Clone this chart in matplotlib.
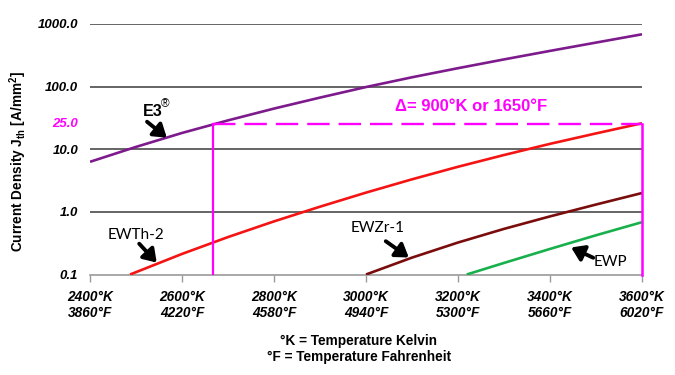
import matplotlib
matplotlib.use("Agg")
import matplotlib.pyplot as plt
from matplotlib.transforms import blended_transform_factory

# ---- data ----
t_e3 = [2400, 2500, 2600, 2700, 2800, 2900, 3000, 3100, 3200, 3300, 3400, 3500, 3600]
j_e3 = [6.3, 10.9, 18.2, 28.9, 44.6, 66.8, 98.5, 141, 197, 272, 372, 505, 685]

t_ewth = [2487, 2500, 2600, 2700, 2800, 2900, 3000, 3100, 3200, 3300, 3400, 3500, 3600]
j_ewth = [0.1, 0.109, 0.213, 0.396, 0.705, 1.21, 2.03, 3.31, 5.25, 8.09, 12.2, 17.9, 26.0]

t_ewzr = [3000, 3100, 3200, 3300, 3400, 3500, 3600]
j_ewzr = [0.1, 0.186, 0.324, 0.535, 0.847, 1.31, 2.0]

t_ewp = [3219, 3300, 3400, 3500, 3600]
j_ewp = [0.1, 0.153, 0.256, 0.423, 0.685]

kelvin_ticks = [2400, 2600, 2800, 3000, 3200, 3400, 3600]
fahrenheit_labels = ["3860", "4220", "4580", "4940", "5300", "5660", "6020"]
y_ticks = [0.1, 1, 10, 100, 1000]
y_labels = ["0.1", "1.0", "10.0", "100.0", "1000.0"]

delta_t_start = 2667
delta_t_end = 3600
delta_level = 25.0

# ---- style ----
C_E3 = "#7D1A8C"
C_TH = "#F41414"
C_ZR = "#7A0C0C"
C_P = "#18B04C"
C_MAG = "#FF00FF"
ARIAL = "Liberation Sans"
LABEL_FONT = "Lato"

fig = plt.figure(figsize=(6.75, 3.75), dpi=100)
ax = fig.add_axes([90 / 675, 1 - 274.5 / 375, 552 / 675, 250.5 / 375])

ax.set_yscale("log")
ax.set_xlim(2400, 3600)
ax.set_ylim(0.1, 1000)

for s in ["top", "right", "left"]:
    ax.spines[s].set_visible(False)
ax.spines["bottom"].set_color("#9A9A9A")
ax.spines["bottom"].set_linewidth(1.2)

# gridlines
for v in [1, 10, 100, 1000]:
    ax.axhline(v, color="#3A3A3A", lw=1.1, zorder=1)

# curves
lw = 1.9
ax.plot(t_e3, j_e3, color=C_E3, lw=lw, zorder=3, solid_capstyle="butt")
ax.plot(t_ewth, j_ewth, color=C_TH, lw=lw, zorder=3, solid_capstyle="butt")
ax.plot(t_ewzr, j_ewzr, color=C_ZR, lw=lw, zorder=3, solid_capstyle="butt")
ax.plot(t_ewp, j_ewp, color=C_P, lw=lw, zorder=3, solid_capstyle="butt")

# magenta delta lines
ax.plot([delta_t_start, delta_t_end], [delta_level, delta_level], color=C_MAG,
        lw=1.7, ls=(0, (9.5, 3.8)), zorder=4)
ax.plot([delta_t_start, delta_t_start], [0.1, delta_level], color=C_MAG, lw=1.6, zorder=4)
ax.plot([delta_t_end, delta_t_end], [0.1, delta_level], color=C_MAG, lw=1.8, zorder=4,
        clip_on=False)

# y ticks
ax.set_yticks(y_ticks)
ax.set_yticklabels(y_labels)
ax.yaxis.set_minor_locator(matplotlib.ticker.NullLocator())
ax.tick_params(axis="y", length=0, pad=8.6)
for lab in ax.get_yticklabels():
    lab.set_fontfamily(ARIAL)
    lab.set_fontweight("bold")
    lab.set_fontstyle("italic")
    lab.set_fontsize(9.5)
trans = blended_transform_factory(ax.transAxes, ax.transData)
ax.text(-12 / 552, delta_level, "25.0", transform=trans, ha="right", va="center",
        color=C_MAG, fontfamily=ARIAL, fontweight="bold", fontstyle="italic",
        fontsize=9.5)

# x ticks
ax.set_xticks(kelvin_ticks)
ax.set_xticklabels([f"{k}°K\n{f}°F" for k, f in zip(kelvin_ticks, fahrenheit_labels)])
ax.tick_params(axis="x", length=5, width=1, color="#9A9A9A", pad=6)
for lab in ax.get_xticklabels():
    lab.set_fontfamily(ARIAL)
    lab.set_fontweight("bold")
    lab.set_fontstyle("italic")
    lab.set_fontsize(9.8)
    lab.set_linespacing(1.2)

# y label
fig.text(18 / 675, 1 - 162 / 375, "Current Density J$_{\\mathregular{th}}$ [A/mm$^{\\mathregular{2}}$]",
         rotation=90, ha="center", va="center", fontfamily=ARIAL, fontweight="bold",
         fontsize=9.8)

# bottom legend text
fig.text(359 / 675, 1 - 341 / 375, "°K = Temperature Kelvin", ha="center", va="center",
         fontfamily=ARIAL, fontweight="bold", fontsize=9.8)
fig.text(359 / 675, 1 - 357.5 / 375, "°F = Temperature Fahrenheit", ha="center", va="center",
         fontfamily=ARIAL, fontweight="bold", fontsize=9.8)

# delta annotation
ax.text(3228, 47.4, "Δ= 900°K or 1650°F", ha="center", va="center", color=C_MAG,
        fontfamily=ARIAL, fontweight="bold", fontsize=12)

# series labels and arrows
arrow_kw = dict(arrowstyle="-|>,head_length=0.75,head_width=0.5", color="black", lw=2.8,
                shrinkA=0, shrinkB=0, mutation_scale=10)
ax.text(2537, 39.4, "E3", ha="center", va="center", fontfamily=ARIAL, fontweight="bold",
        fontsize=11.5)
ax.text(2564, 53, "®", ha="center", va="center", fontfamily=ARIAL, fontsize=8.5)
ax.annotate("", xy=(2567, 15.3), xytext=(2524, 27.5), arrowprops=arrow_kw, zorder=5)

ax.text(2500, 0.428, "EWTh-2", ha="center", va="center", fontfamily=LABEL_FONT, fontsize=11)
ax.annotate("", xy=(2545, 0.155), xytext=(2507, 0.31), arrowprops=arrow_kw, zorder=5)

ax.text(3026, 0.553, "EWZr-1", ha="center", va="center", fontfamily=LABEL_FONT, fontsize=11)
ax.annotate("", xy=(3093, 0.187), xytext=(3043, 0.34), arrowprops=arrow_kw, zorder=5)

ax.text(3532, 0.158, "EWP", ha="center", va="center", fontfamily=LABEL_FONT, fontsize=11)
ax.annotate("", xy=(3446, 0.27), xytext=(3494, 0.185), arrowprops=arrow_kw, zorder=5)

fig.savefig("out.png", dpi=100)
